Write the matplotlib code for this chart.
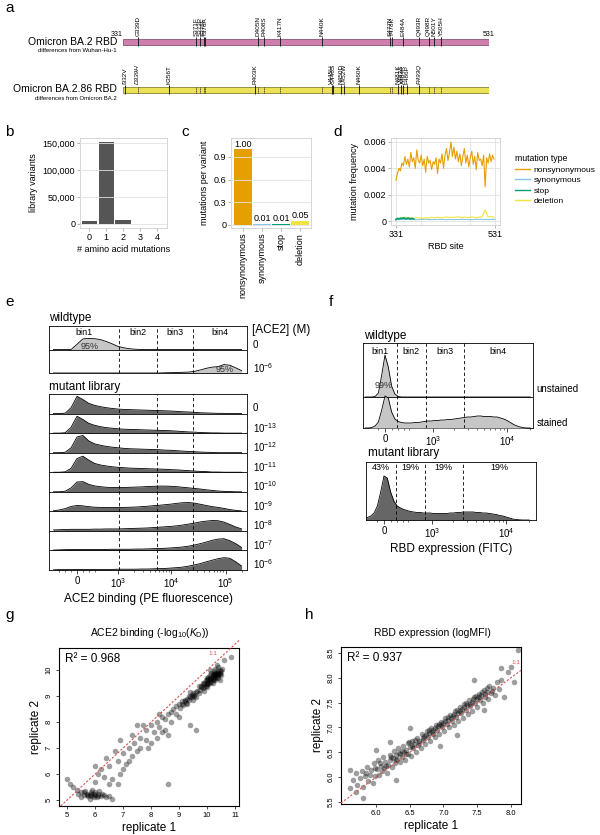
import numpy as np
import matplotlib
matplotlib.use("Agg")
import matplotlib.pyplot as plt
from matplotlib.lines import Line2D
from matplotlib.ticker import StrMethodFormatter

plt.rcParams['font.family'] = ['Liberation Sans', 'DejaVu Sans']
plt.rcParams['mathtext.fontset'] = 'custom'
plt.rcParams['mathtext.rm'] = 'Liberation Sans'
plt.rcParams['mathtext.it'] = 'Liberation Sans:italic'
plt.rcParams['mathtext.default'] = 'regular'
plt.rcParams['axes.linewidth'] = 0.6

# ---------------- data ----------------
# panel a: RBD mutations
ba2_sites = [339, 371, 373, 375, 376, 405, 408, 417, 440, 477, 478, 484, 493, 498, 501, 505]
ba2_labels = ['G339D', 'S371F', 'S373P', 'S375F', 'T376A', 'D405N', 'R408S', 'K417N',
              'N440K', 'S477N', 'T478K', 'E484A', 'Q493R', 'Q498R', 'N501Y', 'Y505H']
ba286_sites = [332, 339, 356, 403, 445, 446, 450, 452, 460, 481, 483, 484, 486, 493]
ba286_labels = ['I332V', 'D339H', 'K356T', 'R403K', 'V445H', 'G446S', 'N450D', 'L452W',
                'N460K', 'N481K', 'V483Δ', 'A484K', 'F486P', 'R493Q']
ba286_italic = ['D339H', 'R493Q']

# panel b
b_nmut = [0, 1, 2, 3, 4]
b_variants = [6000, 152000, 6500, 300, 50]

# panel c
c_types = ['nonsynonymous', 'synonymous', 'stop', 'deletion']
c_values = [1.00, 0.01, 0.01, 0.05]

# panel d
d_nonsyn_sites = list(range(331, 530, 3))
d_nonsyn = [0.0031, 0.0036, 0.0040, 0.0038, 0.0044, 0.0042, 0.0049, 0.0043, 0.0047, 0.0041,
            0.0052, 0.0045, 0.0048, 0.0040, 0.0054, 0.0046, 0.0044, 0.0050, 0.0042, 0.0047,
            0.0037, 0.0049, 0.0044, 0.0046, 0.0039, 0.0045, 0.0043, 0.0048, 0.0036, 0.0047,
            0.0044, 0.0051, 0.0040, 0.0050, 0.0055, 0.0046, 0.0052, 0.0060, 0.0049, 0.0056,
            0.0047, 0.0053, 0.0045, 0.0051, 0.0042, 0.0049, 0.0055, 0.0044, 0.0050, 0.0041,
            0.0048, 0.0053, 0.0043, 0.0049, 0.0039, 0.0052, 0.0046, 0.0047, 0.0042, 0.0050,
            0.0026, 0.0048, 0.0044, 0.0051, 0.0045, 0.0050, 0.0047]
d_syn_sites = list(range(331, 532, 10))
d_syn = [0.0001, 0.00012, 0.00011, 0.00013, 0.0001, 0.00012, 0.00014, 0.00011, 0.00012, 0.00013,
         0.0001, 0.00012, 0.00011, 0.00013, 0.00012, 0.0001, 0.00012, 0.00014, 0.00011, 0.00012, 0.00013]
d_stop_sites = list(range(331, 368, 3))
d_stop = [0.00012, 0.0002, 0.00015, 0.00022, 0.00018, 0.00025, 0.0002, 0.00017, 0.00023,
          0.00019, 0.00015, 0.00021, 0.00016]
d_del_sites = list(range(331, 530, 6))
d_del = [0.0001, 0.00022, 0.00025, 0.0003, 0.00022, 0.00028, 0.00018, 0.00025, 0.00024, 0.0002,
         0.00026, 0.00022, 0.00028, 0.00025, 0.0003, 0.00024, 0.00027, 0.00032, 0.00026, 0.0003,
         0.00028, 0.00033, 0.00027, 0.0003, 0.00026, 0.00029, 0.00031, 0.00025, 0.0003, 0.00032,
         0.00085, 0.0003, 0.00034, 0.00029]
d_types = ['nonsynonymous', 'synonymous', 'stop', 'deletion']

# panel e: ACE2 binding histograms, heights (fraction of row) on an asinh display grid
e_grid = np.arange(-1.0, 7.01, 0.25)
e_gates = [1050, 5400, 25000]
e_wt_rows = ['0', '$10^{-6}$']
e_wt = [
    [0, 0, 0, 0, 0.22, 0.45, 0.47, 0.46, 0.42, 0.34, 0.24, 0.13, 0.07, 0.03, 0.01,
     0, 0, 0, 0, 0, 0, 0, 0, 0, 0, 0, 0, 0, 0, 0, 0, 0, 0],
    [0, 0, 0, 0, 0, 0, 0, 0, 0, 0, 0, 0, 0, 0, 0, 0, 0, 0, 0,
     0.01, 0.015, 0.02, 0.03, 0.04, 0.07, 0.13, 0.2, 0.25, 0.27, 0.36, 0.33, 0.22, 0.1],
]
e_mut_rows = ['0', '$10^{-13}$', '$10^{-12}$', '$10^{-11}$', '$10^{-10}$',
              '$10^{-9}$', '$10^{-8}$', '$10^{-7}$', '$10^{-6}$']
e_mut = [
    [0, 0, 0.02, 0.3, 0.88, 0.72, 0.52, 0.42, 0.35, 0.3, 0.26, 0.23, 0.21, 0.2, 0.19, 0.18, 0.17,
     0.16, 0.15, 0.14, 0.13, 0.11, 0.09, 0.08, 0.06, 0.04, 0.03, 0.02, 0.01, 0.01, 0, 0, 0],
    [0, 0, 0.02, 0.3, 0.86, 0.7, 0.5, 0.4, 0.33, 0.28, 0.25, 0.22, 0.2, 0.19, 0.18, 0.17, 0.16,
     0.15, 0.14, 0.13, 0.12, 0.1, 0.08, 0.06, 0.05, 0.03, 0.02, 0.01, 0.01, 0, 0, 0, 0],
    [0, 0, 0.02, 0.25, 0.8, 0.88, 0.6, 0.45, 0.38, 0.32, 0.28, 0.25, 0.22, 0.2, 0.19, 0.18, 0.17,
     0.16, 0.15, 0.13, 0.12, 0.1, 0.08, 0.06, 0.05, 0.03, 0.02, 0.01, 0, 0, 0, 0, 0],
    [0, 0, 0.02, 0.2, 0.7, 0.82, 0.62, 0.45, 0.37, 0.32, 0.28, 0.25, 0.23, 0.21, 0.2, 0.19, 0.18,
     0.17, 0.16, 0.15, 0.13, 0.12, 0.1, 0.08, 0.06, 0.04, 0.03, 0.01, 0.01, 0, 0, 0, 0],
    [0, 0, 0.03, 0.2, 0.5, 0.52, 0.38, 0.3, 0.26, 0.23, 0.22, 0.22, 0.22, 0.23, 0.24, 0.25, 0.27,
     0.28, 0.29, 0.29, 0.28, 0.26, 0.23, 0.2, 0.17, 0.14, 0.1, 0.07, 0.04, 0.02, 0.01, 0, 0],
    [0.03, 0.07, 0.14, 0.25, 0.3, 0.28, 0.24, 0.21, 0.2, 0.2, 0.2, 0.2, 0.2, 0.21, 0.22, 0.24, 0.26,
     0.29, 0.31, 0.34, 0.37, 0.41, 0.44, 0.45, 0.42, 0.36, 0.3, 0.24, 0.2, 0.15, 0.09, 0.05, 0.02],
    [0.05, 0.06, 0.07, 0.08, 0.08, 0.08, 0.08, 0.09, 0.09, 0.1, 0.1, 0.1, 0.11, 0.12, 0.13, 0.14, 0.15,
     0.17, 0.19, 0.21, 0.23, 0.26, 0.3, 0.35, 0.4, 0.46, 0.5, 0.53, 0.52, 0.45, 0.33, 0.2, 0.1],
    [0.02, 0.03, 0.04, 0.05, 0.05, 0.05, 0.05, 0.05, 0.05, 0.05, 0.06, 0.06, 0.06, 0.06, 0.07, 0.07, 0.08,
     0.09, 0.1, 0.11, 0.13, 0.15, 0.18, 0.22, 0.28, 0.35, 0.43, 0.52, 0.58, 0.6, 0.5, 0.35, 0.15],
    [0.01, 0.02, 0.02, 0.02, 0.03, 0.03, 0.03, 0.03, 0.03, 0.03, 0.03, 0.04, 0.04, 0.04, 0.04, 0.05, 0.05,
     0.06, 0.07, 0.08, 0.1, 0.12, 0.15, 0.2, 0.26, 0.33, 0.42, 0.5, 0.58, 0.63, 0.6, 0.42, 0.2],
]

# panel f: RBD expression histograms (counts, arbitrary units) on an asinh grid
f_grid = np.arange(-0.6, 4.41, 0.1)
f_gates = [182, 783, 2680]
f_unstained = [0, 0, 0, 0.5, 4, 22, 42, 30, 11, 3, 0.5] + [0] * 40
f_stained = [0, 0, 0.5, 2, 6, 18, 32, 30, 16, 9, 6.5, 5.5, 5, 5, 5, 5.5, 5.5, 6, 6.5, 7, 7,
             7.5, 7.5, 8, 8, 8.5, 8.5, 9, 9.5, 10, 10.5, 11, 11, 11.5, 12, 12, 11.5, 11.5, 11.5,
             11, 11, 10, 9, 7.5, 5.5, 3.5, 2, 1, 0.3, 0, 0]
f_mutant = [1.5, 2.5, 4, 7, 14, 28, 44, 42, 28, 19, 14, 12, 10.5, 9.5, 8.5, 8, 7.5, 7.5, 7, 7, 7,
            6.5, 6.5, 6.5, 6.5, 6.5, 7, 7, 7.5, 7.5, 8, 8, 8, 8, 7.5, 7.5, 7, 7, 6.5, 6, 5.5,
            4.5, 4, 3, 2, 1, 0.5, 0.2, 0, 0, 0]
f_mut_pct = ['43%', '19%', '19%', '19%']

# panel g: ACE2 binding replicate correlation
g_r2 = 0.968
g_pairs = [
    (9.75, 9.25), (9.8, 9.35), (9.85, 9.3), (9.9, 9.45), (9.95, 9.4), (10.0, 9.5), (10.0, 9.6),
    (10.05, 9.55), (10.1, 9.65), (10.1, 9.5), (10.15, 9.7), (10.2, 9.6), (10.2, 9.8), (10.25, 9.75),
    (10.3, 9.85), (10.3, 9.7), (10.35, 9.9), (10.35, 9.8), (10.4, 9.95), (10.4, 9.85), (10.45, 10.0),
    (10.45, 9.9), (10.5, 9.95), (10.1, 9.8), (10.0, 9.35), (9.9, 9.2), (9.95, 9.6), (10.05, 9.75),
    (10.25, 9.95), (10.15, 9.9), (10.3, 10.05), (10.4, 10.1), (9.85, 9.5), (10.2, 9.5), (10.3, 9.6),
    (10.4, 9.7), (10.5, 9.8), (10.1, 10.0), (9.7, 9.4), (10.55, 10.05), (10.35, 10.2), (10.45, 9.6),
    (9.8, 9.4), (9.9, 9.5), (10.0, 9.45), (10.05, 9.65), (10.1, 9.6), (10.15, 9.55), (10.2, 9.7),
    (10.25, 9.65), (10.3, 9.8), (10.35, 9.75), (10.4, 9.9), (10.45, 9.85), (10.1, 9.7), (10.2, 9.85),
    (10.3, 9.9), (10.0, 9.7), (9.9, 9.35), (10.05, 9.45), (10.25, 9.85), (10.4, 9.8),
    (9.0, 8.7), (9.1, 8.8), (9.2, 8.85), (9.25, 8.75), (9.3, 8.9), (9.35, 9.0), (9.4, 8.95),
    (9.45, 9.05), (9.5, 9.1), (9.55, 9.0), (9.6, 9.15), (9.65, 9.2), (9.3, 8.7), (9.5, 8.85),
    (9.15, 8.65), (9.4, 9.15), (9.6, 8.95), (9.05, 8.55), (9.2, 8.8), (9.35, 8.85), (9.45, 8.95),
    (9.55, 9.05), (9.7, 9.1), (9.1, 8.7),
    (7.6, 7.4), (7.8, 7.7), (8.0, 7.9), (8.1, 7.6), (8.2, 8.0), (8.3, 7.8), (8.4, 8.2), (8.5, 8.1),
    (8.6, 8.3), (8.7, 8.4), (8.8, 8.5), (8.9, 8.6), (8.5, 7.7), (8.2, 7.4), (8.0, 7.2), (7.8, 7.3),
    (8.7, 8.0), (8.9, 8.3), (8.3, 8.3), (7.7, 7.9), (8.6, 7.5), (9.0, 8.2), (7.9, 7.0), (8.4, 7.6),
    (6.3, 5.9), (6.5, 6.3), (6.6, 5.8), (6.8, 6.5), (6.9, 6.0), (7.0, 6.8), (7.1, 6.4), (7.2, 7.0),
    (7.3, 6.7), (7.4, 7.2), (6.4, 6.6), (6.7, 6.9), (7.0, 6.2), (7.2, 6.5), (6.2, 6.2), (6.5, 5.6),
    (6.9, 7.3), (7.5, 6.9), (7.3, 7.5), (6.0, 5.7), (6.1, 6.0), (7.6, 7.0), (6.8, 5.6),
    (5.5, 5.3), (5.6, 5.2), (5.7, 5.25), (5.75, 5.15), (5.8, 5.2), (5.85, 5.3), (5.9, 5.15),
    (5.95, 5.25), (6.0, 5.2), (6.05, 5.1), (6.1, 5.25), (6.2, 5.15), (6.3, 5.2), (6.4, 5.1),
    (5.65, 5.35), (5.9, 5.4), (6.15, 5.35), (5.5, 5.1), (6.5, 5.15), (5.8, 5.05), (6.6, 5.05),
    (5.4, 5.25), (5.35, 5.4), (5.7, 5.2), (5.85, 5.25), (6.0, 5.3), (6.1, 5.15), (5.95, 5.1),
    (6.25, 5.25), (5.6, 5.3),
    (5.0, 5.8), (5.1, 5.6), (5.2, 5.5), (10.85, 10.5), (8.6, 5.6), (9.6, 7.7), (10.6, 10.4),
    (6.0, 6.3), (9.4, 7.9), (7.5, 7.9),
]

# panel h: RBD expression replicate correlation
h_r2 = 0.937
h_pairs = [
    (5.62, 5.78), (5.66, 5.95), (5.70, 6.08), (5.72, 5.84), (5.76, 5.98), (5.79, 6.12), (5.81, 5.80),
    (5.84, 6.02), (5.86, 6.20), (5.88, 5.92), (5.91, 6.05), (5.93, 6.15), (5.95, 5.88), (5.97, 6.28),
    (5.99, 6.02), (6.01, 6.16), (6.03, 6.35), (6.05, 6.05), (6.07, 6.22), (6.09, 6.12), (6.11, 6.40),
    (6.12, 6.18), (6.14, 6.30), (6.16, 6.08), (6.18, 6.25), (6.20, 6.45), (6.21, 6.34), (6.23, 6.20),
    (6.25, 6.38), (6.26, 6.52), (6.28, 6.28), (6.30, 6.44), (6.31, 6.36), (6.33, 6.58), (6.35, 6.30),
    (6.36, 6.46), (6.38, 6.40), (6.40, 6.62), (6.41, 6.50), (6.43, 6.35), (6.45, 6.55), (6.47, 6.68),
    (6.48, 6.46), (6.50, 6.60), (6.52, 6.42), (6.54, 6.72), (6.55, 6.58), (6.57, 6.66), (6.59, 6.50),
    (6.61, 6.78), (6.62, 6.64), (6.64, 6.72), (6.66, 6.58), (6.68, 6.86), (6.70, 6.74), (6.71, 6.82),
    (6.73, 6.66), (6.75, 6.92), (6.77, 6.80), (6.78, 6.88), (6.80, 6.72), (6.82, 6.98), (6.84, 6.86),
    (6.85, 6.95), (6.87, 6.80), (6.89, 7.06), (6.91, 6.94), (6.92, 7.02), (6.94, 6.86), (6.96, 7.12),
    (6.98, 7.00), (7.00, 7.10), (7.01, 6.92), (7.03, 7.20), (7.05, 7.08), (7.07, 7.16), (7.08, 7.00),
    (7.10, 7.26), (7.12, 7.14), (7.14, 7.24), (7.15, 7.06), (7.17, 7.34), (7.19, 7.22), (7.21, 7.30),
    (7.22, 7.14), (7.24, 7.42), (7.26, 7.30), (7.28, 7.38), (7.29, 7.20), (7.31, 7.48), (7.33, 7.36),
    (7.35, 7.46), (7.36, 7.28), (7.38, 7.56), (7.40, 7.44), (7.42, 7.52), (7.43, 7.34), (7.45, 7.62),
    (7.47, 7.50), (7.49, 7.58), (7.50, 7.42), (7.52, 7.68), (7.54, 7.56), (7.56, 7.66), (7.58, 7.50),
    (7.60, 7.76), (7.62, 7.62), (7.64, 7.72), (7.66, 7.58), (7.68, 7.84), (7.70, 7.70), (7.73, 7.80),
    (7.76, 7.66), (7.79, 7.92), (7.82, 7.78), (7.86, 7.95),
    (5.85, 6.08), (5.98, 6.18), (6.06, 6.28), (6.15, 6.22), (6.22, 6.40), (6.29, 6.35), (6.34, 6.48),
    (6.39, 6.52), (6.44, 6.46), (6.49, 6.70), (6.53, 6.62), (6.58, 6.74), (6.63, 6.68), (6.69, 6.78),
    (6.74, 6.84), (6.79, 6.94), (6.83, 6.90), (6.88, 6.98), (6.93, 7.08), (6.97, 7.04), (7.02, 7.14),
    (7.06, 7.22), (7.11, 7.20), (7.16, 7.28), (7.20, 7.36), (7.25, 7.34), (7.30, 7.42), (7.34, 7.50),
    (7.39, 7.48), (7.44, 7.58), (7.48, 7.64), (7.53, 7.62), (7.57, 7.72), (7.61, 7.68), (7.65, 7.80),
    (7.72, 7.74),
    (8.10, 8.55), (8.00, 8.22), (7.95, 8.12), (8.20, 8.25), (8.05, 7.92), (6.00, 6.55), (5.62, 6.15),
    (6.30, 5.95), (7.20, 6.85), (6.95, 6.62), (7.45, 7.95), (5.80, 5.58), (6.50, 6.98), (7.90, 7.62),
    (6.20, 6.70), (7.60, 7.35), (5.70, 5.70), (7.85, 8.20),
]

# ---------------- styling ----------------
BA2_COLOR = '#cf7fae'
BA286_COLOR = '#ece155'
TYPE_COLORS = {'nonsynonymous': '#E69F00', 'synonymous': '#86c5ea',
               'stop': '#009E73', 'deletion': '#F0E442'}
RED = '#d9534f'

W, H = 600, 835
fig = plt.figure(figsize=(W / 100, H / 100), dpi=100)


def axesPx(x0, y0, x1, y1):
    """axes from a pixel box measured from the top-left corner"""
    return fig.add_axes([x0 / W, 1 - y1 / H, (x1 - x0) / W, (y1 - y0) / H])


def textPx(x, y, s, **kw):
    return fig.text(x / W, 1 - y / H, s, **kw)


def peT(v):
    return np.arcsinh(np.asarray(v, dtype=float) / 360.0)


def fitcT(v):
    return np.arcsinh(np.asarray(v, dtype=float) / 495.0)


def ggStyle(ax):
    for sp in ax.spines.values():
        sp.set_color('#d0d0d0')
        sp.set_linewidth(0.6)
    ax.tick_params(labelsize=6.5, length=2, width=0.5, color='#999999', pad=1.5)


for letter, (x, y) in zip('abcdefgh', [(5, 8), (5, 132), (181, 132), (333, 132),
                                       (5, 302), (329, 302), (5, 615), (305, 615)]):
    textPx(x, y, letter, fontsize=11, va='center', ha='left')

# ---------------- panel a ----------------
ax = axesPx(123, 0, 489, 105)
ax.set_xlim(331, 531)
ax.set_ylim(105, 0)
ax.axis('off')
ax.barh(42, 200, left=331, height=6, color=BA2_COLOR, edgecolor='#8c5475', lw=0.6)
ax.vlines(ba2_sites, 37, 46, color='#222222', lw=0.7)
for s, lab in zip(ba2_sites, ba2_labels):
    ax.text(s, 35.5, lab, rotation=90, ha='center', va='bottom', fontsize=4.6)
ax.text(331, 37.5, '331', ha='right', va='bottom', fontsize=5)
ax.text(531, 37.5, '531', ha='center', va='bottom', fontsize=5)

ax.barh(89.5, 200, left=331, height=6, color=BA286_COLOR, edgecolor='#8a8236', lw=0.6)
ba2_only = [s for s in ba2_sites if s not in ba286_sites]
ax.vlines(ba2_only + [339], 86.5, 92.5, color='#222222', lw=0.6, linestyles=(0, (1.2, 0.8)))
ax.vlines([s for s in ba286_sites if s != 339], 84.5, 93.5, color='#222222', lw=0.7)
for s, lab in zip(ba286_sites, ba286_labels):
    ax.text(s, 83.5, lab, rotation=90, ha='center', va='bottom', fontsize=4.6,
            style='italic' if lab in ba286_italic else 'normal')

textPx(117, 42, 'Omicron BA.2 RBD', ha='right', va='center', fontsize=7.5)
textPx(117, 51, 'differences from Wuhan-Hu-1', ha='right', va='center', fontsize=4.3)
textPx(117, 89, 'Omicron BA.2.86 RBD', ha='right', va='center', fontsize=7.5)
textPx(117, 98, 'differences from Omicron BA.2', ha='right', va='center', fontsize=4.3)

# ---------------- panel b ----------------
ax = axesPx(80, 138, 167, 228)
ax.bar(b_nmut, b_variants, width=0.9, color='#555555', zorder=2)
for yv in [0, 50000, 100000, 150000]:
    ax.axhline(yv, color='#e2e2e2', lw=0.6, zorder=3)
ax.set_xlim(-0.55, 4.6)
ax.set_ylim(-7600, 159600)
ax.set_xticks(b_nmut)
ax.set_yticks([0, 50000, 100000, 150000])
ax.yaxis.set_major_formatter(StrMethodFormatter('{x:,.0f}'))
ggStyle(ax)
ax.set_xlabel('# amino acid mutations', fontsize=6.5, labelpad=2)
ax.set_ylabel('library variants', fontsize=6.5, labelpad=3)

# ---------------- panel c ----------------
ax = axesPx(231, 138, 311, 228)
cx = np.arange(len(c_types))
ax.bar(cx, c_values, width=0.95, color=[TYPE_COLORS[t] for t in c_types], zorder=2)
for yv in [0, 0.3, 0.6, 0.9]:
    ax.axhline(yv, color='#e2e2e2', lw=0.6, zorder=3)
for x, v in zip(cx, c_values):
    ax.text(x, v + 0.01, f'{v:.2f}', ha='center', va='bottom', fontsize=6.5, zorder=4)
ax.set_xlim(-0.63, 3.58)
ax.set_ylim(-0.04, 1.15)
ax.set_yticks([0, 0.3, 0.6, 0.9])
ax.set_yticklabels(['0', '0.3', '0.6', '0.9'])
ax.set_xticks(cx)
ax.set_xticklabels(c_types, rotation=90)
ggStyle(ax)
ax.set_ylabel('mutations per variant', fontsize=6.5, labelpad=3)

# ---------------- panel d ----------------
ax = axesPx(391, 138, 500, 225)
for xv in [331, 381, 481, 531]:
    ax.axvline(xv, color='#e2e2e2', lw=0.6, zorder=0)
for yv in [0, 0.002, 0.004, 0.006]:
    ax.axhline(yv, color='#e2e2e2', lw=0.6, zorder=0)
ax.plot(d_nonsyn_sites, d_nonsyn, color=TYPE_COLORS['nonsynonymous'], lw=0.8)
ax.plot(d_syn_sites, d_syn, color=TYPE_COLORS['synonymous'], lw=0.8)
ax.plot(d_del_sites, d_del, color=TYPE_COLORS['deletion'], lw=0.8)
ax.plot(d_stop_sites, d_stop, color=TYPE_COLORS['stop'], lw=1.2)
ax.set_xlim(321, 541)
ax.set_ylim(-0.0003, 0.0063)
ax.set_xticks([331, 531])
ax.set_yticks([0, 0.002, 0.004, 0.006])
ax.set_yticklabels(['0', '0.002', '0.004', '0.006'])
ggStyle(ax)
ax.set_xlabel('RBD site', fontsize=6.5, labelpad=2)
ax.set_ylabel('mutation frequency', fontsize=6.5, labelpad=3)
handles = [Line2D([], [], color=TYPE_COLORS[t], lw=1) for t in d_types]
fig.legend(handles, d_types, title='mutation type', loc='upper left',
           bbox_to_anchor=(511 / W, 1 - 150 / H), frameon=False, fontsize=6.1,
           title_fontsize=6.3, handlelength=1.8, labelspacing=0.3, borderpad=0,
           handletextpad=0.4, alignment='left')

# ---------------- panel e ----------------
E_XLIM = (-1.19, 7.23)


def drawRows(ax, grid, rows, color):
    n = len(rows)
    for i, h in enumerate(rows):
        base = n - 1 - i
        top = base + np.array(h)
        ax.fill_between(grid, base, top, color=color, lw=0, zorder=1)
        ax.plot(grid, top, color='k', lw=0.6, zorder=2)
        if i > 0:
            ax.axhline(base + 1, color='k', lw=0.6, zorder=3)
    ax.set_ylim(0, n)
    ax.set_yticks([])


def rowLabels(ax, labels, dy=0.28):
    n = len(labels)
    for i, lab in enumerate(labels):
        ax.text(1.03, n - 1 - i + dy, lab, transform=ax.get_yaxis_transform(),
                ha='left', va='center', fontsize=7)


ax = axesPx(49, 326, 247, 373)
drawRows(ax, e_grid, e_wt, '#c6c6c6')
for g in peT(e_gates):
    ax.axvline(g, color='k', lw=0.6, ls=(0, (4, 3)), zorder=4)
ax.set_xlim(*E_XLIM)
ax.set_xticks([])
edges = [E_XLIM[0]] + list(peT(e_gates)) + [E_XLIM[1]]
for k in range(4):
    ax.text((edges[k] + edges[k + 1]) / 2, 1.92, f'bin{k + 1}', ha='center', va='top', fontsize=6.5)
ax.text(0.55, 1.14, '95%', ha='center', va='center', fontsize=6.5, color='#333333')
ax.text(6.3, 0.13, '95%', ha='center', va='center', fontsize=6.5, color='#333333')
rowLabels(ax, e_wt_rows, dy=0.2)
textPx(49, 318, 'wildtype', ha='left', va='center', fontsize=8.5)
textPx(252, 330, '[ACE2] (M)', ha='left', va='center', fontsize=8.5)

ax = axesPx(49, 394, 247, 570)
drawRows(ax, e_grid, e_mut, '#666666')
for g in peT(e_gates):
    ax.axvline(g, color='k', lw=0.6, ls=(0, (4, 3)), zorder=4)
ax.set_xlim(*E_XLIM)
ax.set_xticks(peT([0, 1e3, 1e4, 1e5]))
ax.set_xticklabels(['0', '$10^3$', '$10^4$', '$10^5$'])
ax.set_xticks(peT([-300, -200, -100, 100, 200, 300] + [k * 1e3 for k in range(2, 10)]
                  + [k * 1e4 for k in range(2, 10)] + [2e5]), minor=True)
ax.tick_params(axis='x', which='major', length=3, width=0.5, labelsize=7, pad=1.5)
ax.tick_params(axis='x', which='minor', length=1.5, width=0.4)
rowLabels(ax, e_mut_rows)
ax.set_xlabel('ACE2 binding (PE fluorescence)', fontsize=8.5, labelpad=2)
textPx(49, 387, 'mutant library', ha='left', va='center', fontsize=8.5)

# ---------------- panel f ----------------
F_MINOR = [-100, 100, 200, 300, 400] + [k * 1e3 for k in range(2, 10)] + [2e4]


def fitcAxis(ax):
    ax.set_xticks(fitcT([0, 1e3, 1e4]))
    ax.set_xticklabels(['0', '$10^3$', '$10^4$'])
    ax.set_xticks(fitcT(F_MINOR), minor=True)
    ax.tick_params(axis='x', which='major', length=3, width=0.5, labelsize=7, pad=1.5)
    ax.tick_params(axis='x', which='minor', length=1.5, width=0.4)
    ax.set_yticks([])


ax = axesPx(363, 343, 533, 428)
ax.fill_between(f_grid, 31, 31 + np.array(f_unstained), color='#c6c6c6', lw=0, zorder=1)
ax.plot(f_grid, 31 + np.array(f_unstained), color='k', lw=0.6, zorder=2)
ax.axhline(31, color='k', lw=0.6, zorder=3)
ax.fill_between(f_grid, 0, f_stained, color='#c6c6c6', lw=0, zorder=3.5)
ax.plot(f_grid, f_stained, color='k', lw=0.6, zorder=3.6)
for g in fitcT(f_gates):
    ax.axvline(g, color='k', lw=0.6, ls=(0, (4, 3)), zorder=4)
ax.set_xlim(-0.667, 4.485)
ax.set_ylim(0, 85)
fitcAxis(ax)
edges = [-0.667] + list(fitcT(f_gates)) + [4.485]
for k in range(4):
    ax.text((edges[k] + edges[k + 1]) / 2, 77, f'bin{k + 1}', ha='center', va='center', fontsize=6.5)
ax.text(-0.05, 43, '99%', ha='center', va='center', fontsize=6.5, color='#333333')
ax.text(1.02, 39, 'unstained', transform=ax.get_yaxis_transform(), ha='left', va='center', fontsize=7)
ax.text(1.02, 5, 'stained', transform=ax.get_yaxis_transform(), ha='left', va='center', fontsize=7)
textPx(364, 336, 'wildtype', ha='left', va='center', fontsize=8.5)

ax = axesPx(366, 462, 536, 520)
ax.fill_between(f_grid, 0, f_mutant, color='#666666', lw=0, zorder=1)
ax.plot(f_grid, f_mutant, color='k', lw=0.6, zorder=2)
for g in fitcT(f_gates):
    ax.axvline(g, color='k', lw=0.6, ls=(0, (4, 3)), zorder=4)
ax.set_xlim(-0.545, 4.606)
ax.set_ylim(0, 58)
fitcAxis(ax)
edges = [-0.545] + list(fitcT(f_gates)) + [4.606]
for k in range(4):
    ax.text((edges[k] + edges[k + 1]) / 2, 52, f_mut_pct[k], ha='center', va='center', fontsize=6.5)
ax.set_xlabel('RBD expression (FITC)', fontsize=8.5, labelpad=2)
textPx(368, 453, 'mutant library', ha='left', va='center', fontsize=8.5)


# ---------------- panels g, h ----------------
def corrPanel(box, pairs, xlim, ylim, xticks, yticks, fmt, r2, title, titleX, oneLabel):
    ax = axesPx(*box)
    pts = np.array(pairs)
    ax.scatter(pts[:, 0], pts[:, 1], s=16, color='k', alpha=0.38, lw=0, zorder=2)
    lo, hi = max(xlim[0], ylim[0]), xlim[1]
    ax.plot([lo, hi], [lo, hi], color=RED, lw=0.8, ls=(0, (2, 1.5)), clip_on=False, zorder=3)
    ax.text(oneLabel[0], oneLabel[1], '1:1', color=RED, fontsize=4.5, ha='center', va='center')
    ax.set_xlim(*xlim)
    ax.set_ylim(*ylim)
    ax.set_xticks(xticks)
    ax.set_xticklabels([fmt.format(v) for v in xticks])
    ax.set_yticks(yticks)
    ax.set_yticklabels([fmt.format(v) for v in yticks], rotation=90, va='center')
    ax.tick_params(labelsize=5.5, length=2.5, width=0.5, pad=2)
    for sp in ax.spines.values():
        sp.set_linewidth(0.8)
    ax.text(0.035, 0.93, f'R² = {r2:.3f}', transform=ax.transAxes, fontsize=8.5, va='center')
    ax.set_xlabel('replicate 1', fontsize=8.5, labelpad=2)
    ax.set_ylabel('replicate 2', fontsize=8.5, labelpad=3)
    textPx(titleX, 633, title, ha='center', va='center', fontsize=7.5)
    return ax


corrPanel((59, 648, 239, 806), g_pairs, (4.71, 11.14), (4.77, 10.85),
          [5, 6, 7, 8, 9, 10, 11], [5, 6, 7, 8, 9, 10], '{:g}', g_r2,
          'ACE2 binding (-log$_{10}$($\\mathit{K}_\\mathrm{D}$))', 150, (10.2, 10.65))
corrPanel((341, 647, 521, 804), h_pairs, (5.48, 8.15), (5.46, 8.62),
          [6.0, 6.5, 7.0, 7.5, 8.0], [5.5, 6.0, 6.5, 7.0, 7.5, 8.0, 8.5], '{:.1f}', h_r2,
          'RBD expression (logMFI)', 432, (8.08, 8.3))

fig.savefig('out.png', dpi=100, facecolor='white')
